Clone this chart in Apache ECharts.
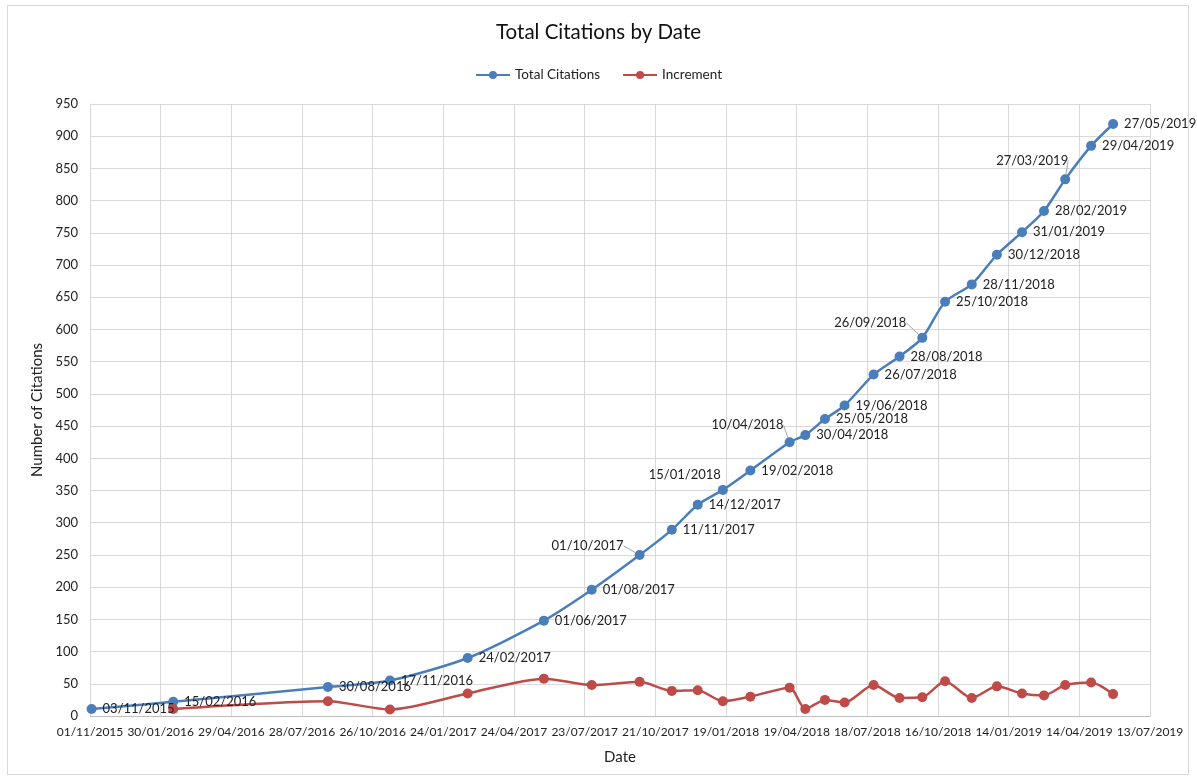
<!DOCTYPE html>
<html>
<head>
<meta charset="utf-8">
<script src="https://cdn.jsdelivr.net/npm/echarts@6/dist/echarts.min.js"></script>
<style>
html,body{margin:0;padding:0;background:#fff;}
#frame{position:absolute;left:7px;top:5px;width:1182px;height:770px;border:1px solid #d9d9d9;box-sizing:border-box;}
#chart{position:absolute;left:0;top:0;width:1197px;height:780px;}
</style>
</head>
<body>
<div id="frame"></div>
<div id="chart"></div>
<script>
const dates = ['03/11/2015','15/02/2016','30/08/2016','17/11/2016','24/02/2017','01/06/2017','01/08/2017','01/10/2017','11/11/2017','14/12/2017','15/01/2018','19/02/2018','10/04/2018','30/04/2018','25/05/2018','19/06/2018','26/07/2018','28/08/2018','26/09/2018','25/10/2018','28/11/2018','30/12/2018','31/01/2019','28/02/2019','27/03/2019','29/04/2019','27/05/2019'];
const totalCitations = [11,22,45,55,90,148,196,250,289,328,351,381,425,436,461,482,530,558,587,643,670,716,751,784,833,885,919];
const incrementDates = dates.slice(1);
const increments = [11,23,10,35,58,48,53,39,40,23,30,44,11,25,21,48,28,29,54,28,46,35,32,48,52,34];
const axisStart = '01/11/2015';
const axisEnd = '13/07/2019';
const tickDays = 90;

const DAY = 86400000;
function parse(d){const [dd,mm,yy]=d.split('/').map(Number);return Date.UTC(yy,mm-1,dd);}
const base = parse(axisStart);
function dayOf(d){return Math.round((parse(d)-base)/DAY);}
function fmt(n){const t=new Date(base+n*DAY);const p=v=>String(v).padStart(2,'0');return p(t.getUTCDate())+'/'+p(t.getUTCMonth()+1)+'/'+t.getUTCFullYear();}

const FONT = 'Lato, "Noto Sans", sans-serif';
// labels placed to the left/above: [dx, dy, leader line]
const leftLabels = {'01/10/2017':[-5,-9,true],'15/01/2018':[9,-15,false],'10/04/2018':[5,-17,true],'26/09/2018':[-5,-15,true],'27/03/2019':[14,-19,true]};

const totalData = dates.map((d,i)=>{
  const item = {value:[dayOf(d), totalCitations[i]], name:d};
  if (leftLabels[d]) {
    item.label = {position:'left'};
    if (leftLabels[d][2]) item.labelLine = {show:true};
  }
  return item;
});
const incData = incrementDates.map((d,i)=>[dayOf(d), increments[i]]);

const chart = echarts.init(document.getElementById('chart'));
chart.setOption({
  animation:false,
  textStyle:{fontFamily:FONT},
  title:{text:'Total Citations by Date',left:'center',top:17,textStyle:{fontSize:20.5,fontWeight:'normal',color:'#111',fontFamily:FONT}},
  legend:{top:63,left:'center',itemWidth:34,itemHeight:10,itemGap:22,textStyle:{fontSize:13.5,color:'#222',fontFamily:FONT},data:['Total Citations','Increment']},
  grid:{left:90,right:47,top:104,bottom:64,containLabel:false},
  xAxis:{type:'value',min:0,max:dayOf(axisEnd),interval:tickDays,
    name:'Date',nameLocation:'middle',nameGap:34,nameTextStyle:{fontSize:15,color:'#222',fontFamily:FONT},
    axisLine:{show:true,lineStyle:{color:'#bfbfbf'}},axisTick:{show:false},
    axisLabel:{formatter:fmt,fontSize:12,color:'#222',margin:10,fontFamily:FONT},
    splitLine:{show:true,lineStyle:{color:'#d9d9d9'}}},
  yAxis:{type:'value',min:0,max:950,interval:50,
    name:'Number of Citations',nameLocation:'middle',nameGap:44,nameTextStyle:{fontSize:15,color:'#222',fontFamily:FONT},
    axisLine:{show:true,lineStyle:{color:'#d9d9d9'}},axisTick:{show:false},
    axisLabel:{fontSize:13,color:'#222',margin:12,fontFamily:FONT},
    splitLine:{show:true,lineStyle:{color:'#d9d9d9'}}},
  series:[
    {name:'Total Citations',type:'line',data:totalData,smooth:0.25,symbol:'circle',symbolSize:10,
      itemStyle:{color:'#4a7ebb'},lineStyle:{width:2.5,color:'#4a7ebb'},
      label:{show:true,position:'right',distance:6,fontSize:13,color:'#222',fontFamily:FONT,formatter:p=>p.name},
      labelLine:{show:false,lineStyle:{color:'#a6a6a6',width:1}},
      labelLayout:function(p){const d=dates[p.dataIndex];const m=leftLabels[d];if(!m)return {};return {dx:m[0],dy:m[1]};}
    },
    {name:'Increment',type:'line',data:incData,smooth:0.25,symbol:'circle',symbolSize:10,
      itemStyle:{color:'#be4b48'},lineStyle:{width:2.5,color:'#be4b48'}}
  ]
});
</script>
</body>
</html>
